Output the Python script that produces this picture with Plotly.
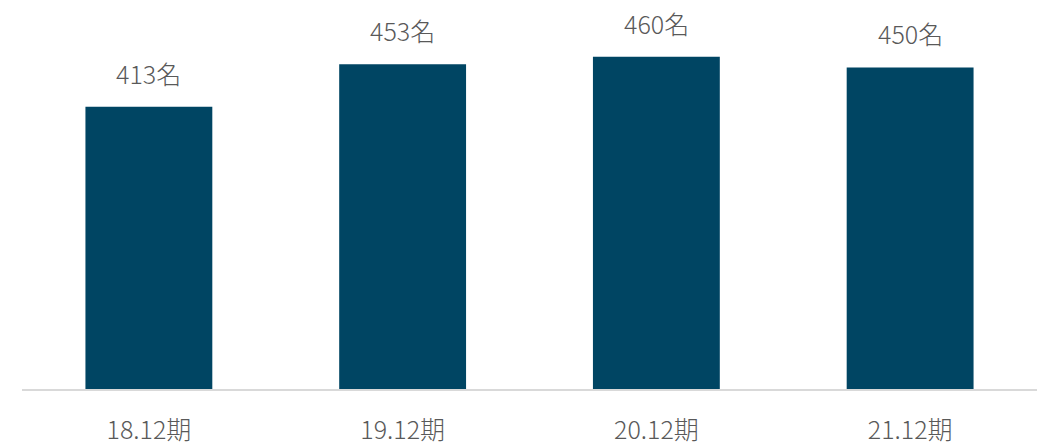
import plotly.graph_objects as go

periods = ['18.12期', '19.12期', '20.12期', '21.12期']
employees = [413, 453, 460, 450]
value_labels = ['413名', '453名', '460名', '450名']

FONT = 'Noto Sans CJK JP'
TEXT_COLOR = '#595959'

fig = go.Figure(
    go.Bar(
        x=periods,
        y=employees,
        marker=dict(color='#004563', line=dict(width=0)),
        hoverinfo='skip',
    )
)

# value labels sit a bit above each bar
for p, v, lab in zip(periods, employees, value_labels):
    fig.add_annotation(
        x=p, y=v, text=lab, showarrow=False,
        yanchor='bottom', yshift=14,
        font=dict(family=FONT, size=25, color=TEXT_COLOR, weight=300),
    )

# page body adds an 8px offset, so the figure is sized to fit what is left
fig.update_layout(
    width=1041,
    height=434,
    margin=dict(l=14, r=12, t=4, b=53),
    plot_bgcolor='white',
    paper_bgcolor='white',
    bargap=0.5,
    showlegend=False,
    font=dict(family=FONT, color=TEXT_COLOR),
)
fig.update_xaxes(
    showline=True, linecolor='#D9D9D9', linewidth=2,
    showgrid=False, ticks='', automargin=False,
    ticklabelstandoff=18,
    tickfont=dict(family=FONT, size=25, color=TEXT_COLOR, weight=300),
)
fig.update_yaxes(
    range=[148, 502], visible=False, showgrid=False, zeroline=False,
    automargin=False,
)

fig.write_html("out.html")
